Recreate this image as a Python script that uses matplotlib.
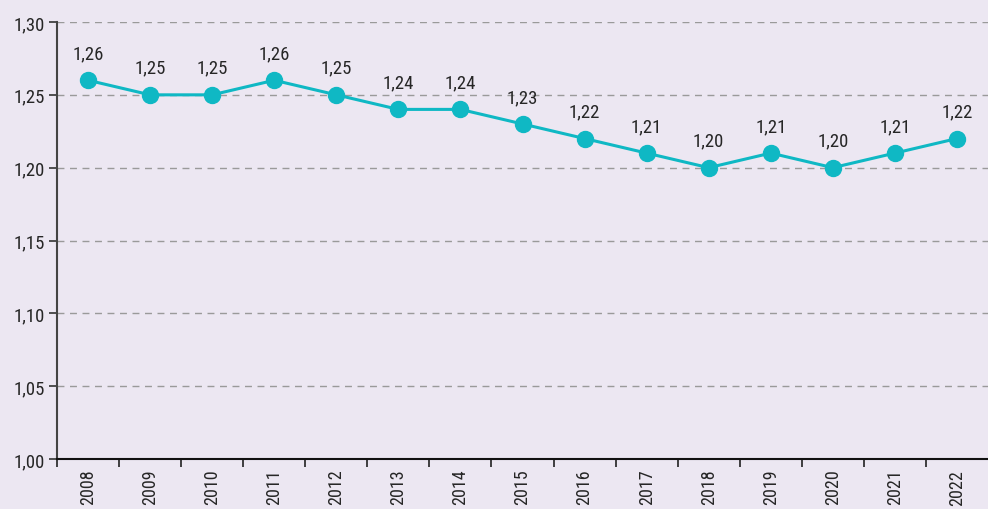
import matplotlib.pyplot as plt
from matplotlib.ticker import FixedLocator, NullFormatter

plt.rcParams['font.family'] = ['Roboto Condensed', 'Liberation Sans Narrow', 'Roboto', 'DejaVu Sans']

years = ['2008', '2009', '2010', '2011', '2012', '2013', '2014', '2015',
         '2016', '2017', '2018', '2019', '2020', '2021', '2022']
values = [1.26, 1.25, 1.25, 1.26, 1.25, 1.24, 1.24, 1.23,
          1.22, 1.21, 1.20, 1.21, 1.20, 1.21, 1.22]
yticks = [1.00, 1.05, 1.10, 1.15, 1.20, 1.25, 1.30]

bg = '#ECE7F2'
teal = '#0FB8C4'
ink = '#262626'

fig = plt.figure(figsize=(9.88, 5.10), dpi=100, facecolor=bg)
ax = fig.add_axes([57 / 988, 50 / 510, 931 / 988, 437 / 510], facecolor=bg)

x = list(range(len(years)))
ax.plot(x, values, color=teal, lw=2.2, marker='o', ms=11.5, zorder=3)
for xi, v in zip(x, values):
    ax.annotate(f'{v:.2f}'.replace('.', ','), (xi, v), xytext=(0, 13),
                textcoords='offset points', ha='center', va='bottom',
                fontsize=13.5, color=ink)

ax.set_xlim(-0.5, len(years) - 0.5)
ax.set_ylim(1.0, 1.30)
ax.set_yticks(yticks)
ax.set_yticklabels([f'{t:.2f}'.replace('.', ',') for t in yticks])
for t in yticks[1:]:
    ax.axhline(t, color='#9a9a9a', lw=1, ls=(0, (5, 4)), zorder=1)

# year labels sit between boundary ticks
ax.set_xticks(x)
ax.set_xticklabels(years, rotation=90)
ax.xaxis.set_minor_locator(FixedLocator([i - 0.5 for i in x]))
ax.xaxis.set_minor_formatter(NullFormatter())
ax.tick_params(axis='x', which='major', length=0, pad=7, labelsize=13, labelcolor=ink)
ax.tick_params(axis='x', which='minor', length=6, width=1.2, color='#222222')
ax.tick_params(axis='y', length=6, width=1.2, color='#333333', labelsize=13.5,
               labelcolor=ink, pad=3)

for s in ['top', 'right']:
    ax.spines[s].set_visible(False)
ax.spines['left'].set_color('#444444')
ax.spines['left'].set_linewidth(1.5)
ax.spines['bottom'].set_color('#111111')
ax.spines['bottom'].set_linewidth(1.5)

fig.savefig('out.png', dpi=100, facecolor=bg)
